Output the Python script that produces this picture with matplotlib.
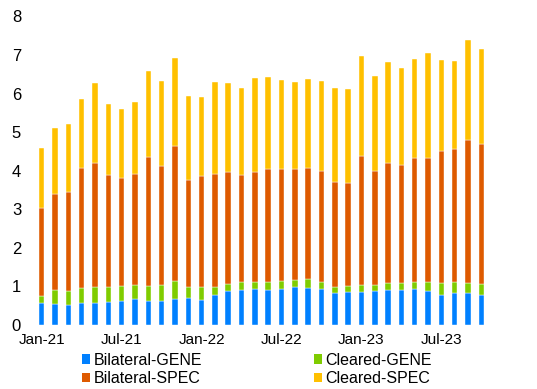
import matplotlib
matplotlib.use("Agg")
import matplotlib.pyplot as plt
from matplotlib.patches import Patch
import numpy as np

plt.rcParams['font.family'] = ['Liberation Sans', 'DejaVu Sans']

months = ["Jan-21","Feb-21","Mar-21","Apr-21","May-21","Jun-21","Jul-21","Aug-21","Sep-21","Oct-21","Nov-21","Dec-21",
          "Jan-22","Feb-22","Mar-22","Apr-22","May-22","Jun-22","Jul-22","Aug-22","Sep-22","Oct-22","Nov-22","Dec-22",
          "Jan-23","Feb-23","Mar-23","Apr-23","May-23","Jun-23","Jul-23","Aug-23","Sep-23","Oct-23"]

bilateral_gene = [0.56, 0.54, 0.52, 0.57, 0.56, 0.59, 0.61, 0.67, 0.61, 0.62, 0.67, 0.69,
                  0.64, 0.77, 0.87, 0.92, 0.94, 0.92, 0.94, 0.98, 0.95, 0.94, 0.82, 0.85,
                  0.86, 0.87, 0.92, 0.92, 0.94, 0.89, 0.79, 0.82, 0.82, 0.79]
cleared_gene = [0.19, 0.37, 0.36, 0.39, 0.42, 0.40, 0.40, 0.37, 0.41, 0.42, 0.47, 0.30,
                0.35, 0.21, 0.20, 0.19, 0.18, 0.20, 0.21, 0.19, 0.24, 0.18, 0.17, 0.17,
                0.18, 0.18, 0.17, 0.17, 0.18, 0.22, 0.30, 0.30, 0.27, 0.27]
bilateral_spec = [2.28, 2.48, 2.56, 3.10, 3.21, 2.90, 2.81, 2.87, 3.33, 3.09, 3.51, 2.78,
                  2.88, 2.93, 2.91, 2.78, 2.86, 2.93, 2.90, 2.87, 2.89, 2.87, 2.71, 2.65,
                  3.33, 2.94, 3.12, 3.07, 3.22, 3.21, 3.41, 3.45, 3.72, 3.63]
cleared_spec = [1.55, 1.73, 1.78, 1.80, 2.08, 1.84, 1.79, 1.87, 2.24, 2.20, 2.28, 2.17,
                2.04, 2.38, 2.30, 2.26, 2.43, 2.38, 2.31, 2.25, 2.30, 2.35, 2.45, 2.45,
                2.61, 2.47, 2.61, 2.51, 2.57, 2.74, 2.36, 2.28, 2.57, 2.47]

series_names = ["Bilateral-GENE", "Cleared-GENE", "Bilateral-SPEC", "Cleared-SPEC"]
colors = ["#0080FF", "#7FCC00", "#DE5A00", "#FFC000"]

fig = plt.figure(figsize=(5.37, 3.89), dpi=100)
ax = fig.add_axes([0.0652, 0.1645, 0.8436, 0.7931])

x = np.arange(len(months))
bottom = np.zeros(len(months))
for vals, c in zip([bilateral_gene, cleared_gene, bilateral_spec, cleared_spec], colors):
    v = np.array(vals)
    ax.bar(x, v, width=0.41, bottom=bottom, color=c, edgecolor='#ffffff', linewidth=0.3)
    bottom += v

ax.set_xlim(-0.5, len(months) - 0.5)
ax.set_ylim(0, 8)
ax.set_yticks(range(0, 9))
tick_idx = list(range(0, len(months), 6))
ax.set_xticks(tick_idx)
ax.set_xticklabels([months[i] for i in tick_idx])
ax.tick_params(axis='both', length=0, colors='black')
ax.tick_params(axis='y', pad=10, labelsize=12)
ax.tick_params(axis='x', pad=6, labelsize=11)
for s in ax.spines.values():
    s.set_visible(False)

handles = [Patch(facecolor=c) for c in colors]
order = [0, 2, 1, 3]
leg = fig.legend([handles[i] for i in order], [series_names[i] for i in order],
                 ncol=2, loc='center', bbox_to_anchor=(0.478, 0.05), frameon=False,
                 fontsize=11.5, handlelength=0.5, handleheight=0.55, handletextpad=0.2,
                 columnspacing=7.0, labelspacing=0.2, borderpad=0.1)

fig.savefig("out.png", dpi=100)
